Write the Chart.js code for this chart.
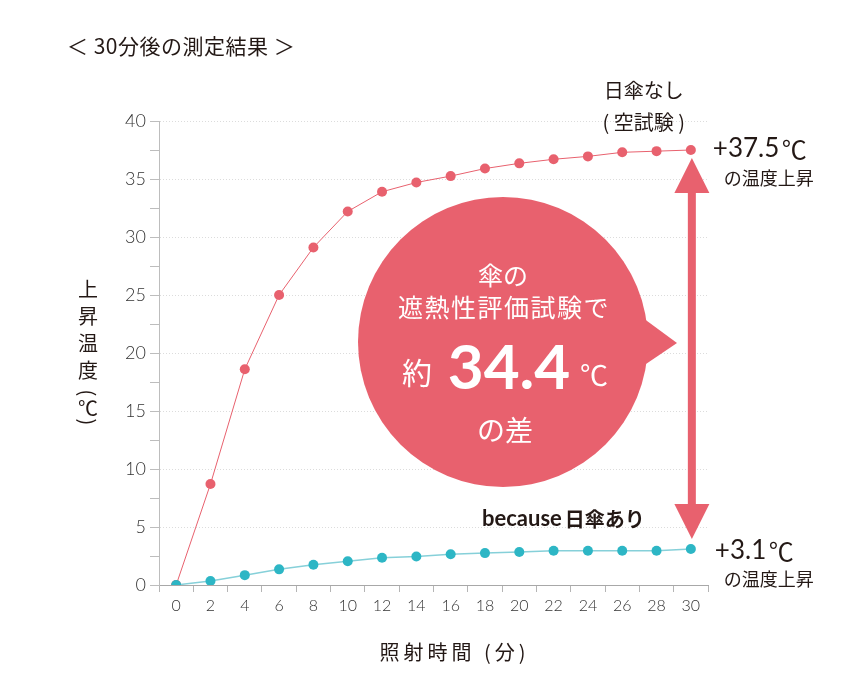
<!DOCTYPE html>
<html>
<head>
<meta charset="utf-8">
<script src="https://cdn.jsdelivr.net/npm/chart.js@4.4.0/dist/chart.umd.min.js"></script>
<style>
html, body {margin: 0; padding: 0; background: #fff;}
#wrap {width: 867px; height: 675px;}
</style>
</head>
<body>
<div id="wrap"><canvas id="TempChart"></canvas></div>
<script>
// ---------------- DATA -------------------
const Minutes = ['0', '2', '4', '6', '8', '10', '12', '14', '16', '18', '20', '22', '24', '26', '28', '30']
const NoUmbrella = [0, 8.7, 18.6, 25.0, 29.1, 32.2, 33.9, 34.7, 35.25, 35.9, 36.35, 36.7, 36.95, 37.3, 37.4, 37.5]
const WithUmbrella = [0, 0.35, 0.85, 1.35, 1.75, 2.05, 2.35, 2.45, 2.65, 2.75, 2.85, 2.95, 2.95, 2.95, 2.95, 3.1]
const YMin = 0
const YMax = 40
const YStep = 2.5
const YLabelEvery = 5
const Difference = '34.4'

const Red = '#E8616E'
const Teal = '#2DB6C5'
const TealLine = '#86D0D9'
const Ink = '#231815'
const JP = '"Noto Sans CJK JP", "Noto Sans", sans-serif'
const NUM = 'Lato, "Noto Sans", sans-serif'

// ---------------- ANNOTATIONS -------------------
function drawText(ctx, text, x, y, font, color, align) {
    ctx.font = font
    ctx.fillStyle = color
    ctx.textAlign = align || 'left'
    ctx.textBaseline = 'middle'
    ctx.fillText(text, x, y)
}

const Annotations = {
    id: 'annotations',
    afterDatasetsDraw(chart) {
        const ctx = chart.ctx
        const xS = chart.scales.x
        const yS = chart.scales.y
        const area = chart.chartArea
        const last = Minutes.length - 1
        const ax = xS.getPixelForValue(last)
        const topY = yS.getPixelForValue(NoUmbrella[last])
        const botY = yS.getPixelForValue(WithUmbrella[last])

        ctx.save()

        // speech bubble
        const cx = area.left + 344, cy = area.top + 221, r = 145
        ctx.fillStyle = Red
        ctx.beginPath()
        ctx.arc(cx, cy, r, 0, Math.PI * 2)
        ctx.fill()
        ctx.beginPath()
        ctx.moveTo(cx + 140, cy - 24)
        ctx.lineTo(cx + 174, cy + 1)
        ctx.lineTo(cx + 140, cy + 24)
        ctx.closePath()
        ctx.fill()

        drawText(ctx, '傘の', cx, cy - 67, '25px ' + JP, '#fff', 'center')
        ctx.letterSpacing = '1.5px'
        drawText(ctx, '遮熱性評価試験で', cx + 1, cy - 35, '25px ' + JP, '#fff', 'center')
        ctx.letterSpacing = '0px'
        drawText(ctx, '約', cx - 86, cy + 31, '30px ' + JP, '#fff', 'center')
        drawText(ctx, Difference, cx + 6, cy + 27, 'bold 62px ' + NUM, '#fff', 'center')
        drawText(ctx, '℃', cx + 91, cy + 33, '28px ' + JP, '#fff', 'center')
        drawText(ctx, 'の差', cx + 2, cy + 88, '28px ' + JP, '#fff', 'center')

        // double arrow between the two final values
        const head = 35, shaft = 8
        const tipTop = topY + 8, tipBot = botY - 10
        ctx.fillStyle = Red
        ctx.fillRect(ax + 1 - shaft / 2, tipTop + head - 1, shaft, tipBot - tipTop - 2 * head + 2)
        ctx.beginPath()
        ctx.moveTo(ax + 1, tipTop)
        ctx.lineTo(ax + 1 + head / 2, tipTop + head)
        ctx.lineTo(ax + 1 - head / 2, tipTop + head)
        ctx.closePath()
        ctx.fill()
        ctx.beginPath()
        ctx.moveTo(ax + 1, tipBot)
        ctx.lineTo(ax + 1 + head / 2, tipBot - head)
        ctx.lineTo(ax + 1 - head / 2, tipBot - head)
        ctx.closePath()
        ctx.fill()

        // labels on the right
        drawText(ctx, '日傘なし', ax - 47, 90, '20px ' + JP, Ink, 'center')
        drawText(ctx, '( 空試験 )', ax - 47, 122, '20px ' + JP, Ink, 'center')
        drawText(ctx, '+' + NoUmbrella[last].toFixed(1), ax + 22, topY - 1, '26px ' + NUM, Ink)
        drawText(ctx, '℃', ax + 91, topY - 1, '25px ' + JP, Ink)
        drawText(ctx, 'の温度上昇', ax + 33, topY + 28, '18px ' + JP, Ink)

        drawText(ctx, '+' + WithUmbrella[last].toFixed(1), ax + 24, botY + 2, '26px ' + NUM, Ink)
        drawText(ctx, '℃', ax + 78, botY + 2, '25px ' + JP, Ink)
        drawText(ctx, 'の温度上昇', ax + 33, botY + 30, '18px ' + JP, Ink)

        ctx.font = 'bold 22px ' + NUM
        const bw = ctx.measureText('because').width
        drawText(ctx, 'because', 482, botY - 30, 'bold 22px ' + NUM, Ink)
        drawText(ctx, '日傘あり', 482 + bw + 3, botY - 30, 'bold 20px ' + JP, Ink)

        // chart title
        ctx.letterSpacing = '0.5px'
        drawText(ctx, '＜ 30分後の測定結果 ＞', 67, 46, '21px ' + JP, Ink)
        ctx.letterSpacing = '0px'

        // vertical y axis title
        const tx = 88
        const chars = ['上', '昇', '温', '度']
        chars.forEach((c, i) => drawText(ctx, c, tx, 289 + i * 27, '20px ' + JP, Ink, 'center'))
        ctx.save(); ctx.translate(tx, 393); ctx.rotate(Math.PI / 2)
        drawText(ctx, '(', 0, 0, '20px ' + JP, Ink, 'center'); ctx.restore()
        drawText(ctx, '℃', tx, 408, '20px ' + JP, Ink, 'center')
        ctx.save(); ctx.translate(tx, 422); ctx.rotate(Math.PI / 2)
        drawText(ctx, ')', 0, 0, '20px ' + JP, Ink, 'center'); ctx.restore()

        // x axis title
        ctx.letterSpacing = '4px'
        drawText(ctx, '照射時間 (分)', (area.left + area.right) / 2 + 21, 652, '20px ' + JP, Ink, 'center')
        ctx.letterSpacing = '0px'

        ctx.restore()
    }
}

// ---------------- CHART -------------------
new Chart(document.getElementById('TempChart').getContext('2d'), {
    type: 'line',
    data: {
        labels: Minutes,
        datasets: [{
            label: '日傘あり',
            data: WithUmbrella,
            borderColor: TealLine,
            borderWidth: 1.5,
            backgroundColor: Teal,
            pointBackgroundColor: Teal,
            pointBorderWidth: 0,
            pointRadius: 5,
            fill: false,
            tension: 0
        }, {
            label: '日傘なし',
            data: NoUmbrella,
            borderColor: Red,
            borderWidth: 1,
            backgroundColor: Red,
            pointBackgroundColor: Red,
            pointBorderWidth: 0,
            pointRadius: 5,
            fill: false,
            tension: 0
        }]
    },
    options: {
        responsive: true,
        maintainAspectRatio: false,
        animation: false,
        layout: {padding: {top: 121, right: 159, left: 0, bottom: 0}},
        plugins: {
            legend: {display: false},
            tooltip: {enabled: false}
        },
        scales: {
            x: {
                type: 'category',
                offset: true,
                afterFit: scale => { scale.height = 90 },
                grid: {
                    offset: true,
                    drawOnChartArea: false,
                    tickLength: 7,
                    tickColor: '#b5b5b5'
                },
                border: {color: '#a8a8a8', width: 1},
                ticks: {
                    color: '#333',
                    padding: 4,
                    autoSkip: false,
                    maxRotation: 0,
                    font: {family: 'Lato', size: 16, weight: 300}
                }
            },
            y: {
                min: YMin,
                max: YMax,
                afterFit: scale => { scale.width = 159 },
                grid: {
                    color: ctx => (ctx.tick && ctx.tick.value % YLabelEvery === 0 && ctx.tick.value > 0) ? '#dcdcdc' : 'rgba(0,0,0,0)',
                    tickColor: '#bdbdbd',
                    tickLength: 9
                },
                border: {color: '#bdbdbd', width: 1, dash: [1, 2]},
                ticks: {
                    stepSize: YStep,
                    autoSkip: false,
                    color: '#333',
                    padding: 4,
                    font: {family: 'Lato', size: 18, weight: 300},
                    callback: v => v % YLabelEvery === 0 ? v : ''
                }
            }
        }
    },
    plugins: [Annotations]
})
</script>
</body>
</html>
